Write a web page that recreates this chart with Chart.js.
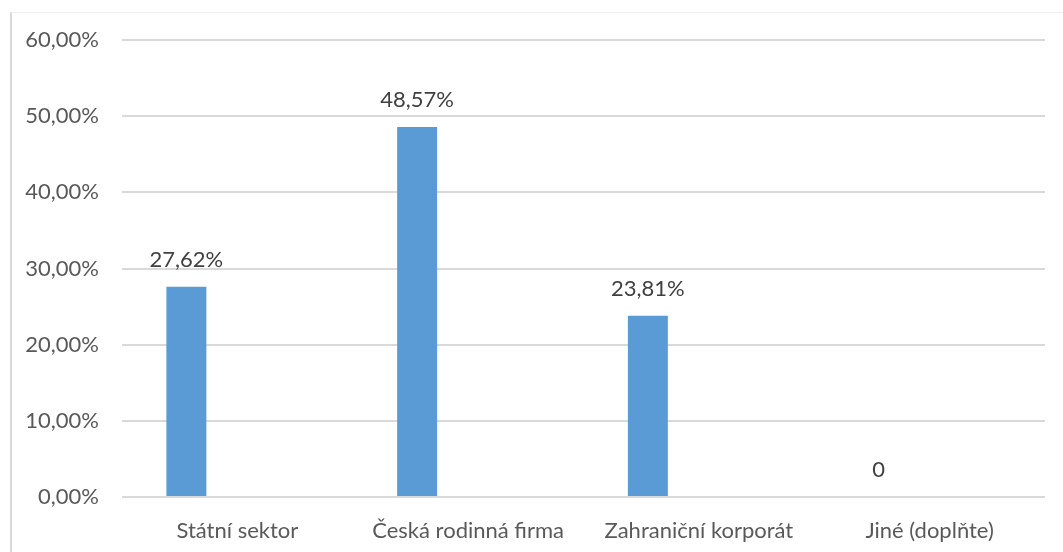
<!DOCTYPE html>
<html>
<head>
<meta charset="utf-8">
<script src="https://cdn.jsdelivr.net/npm/chart.js@4"></script>
<style>
  html, body { margin: 0; padding: 0; background: #fff; overflow: hidden; }
  #wrap { position: relative; width: 1063px; height: 552px; }
  #frame { position: absolute; left: 10px; top: 12px; width: 1100px; height: 600px;
           border-left: 2px solid #d9d9d9; border-top: 1px solid #eeeeee; }
  canvas { position: absolute; left: 0; top: 0; }
</style>
</head>
<body>
<div id="wrap">
  <div id="frame"></div>
  <canvas id="chart" width="1063" height="552"></canvas>
</div>
<script>
// Categories and values (percent)
const categories = ['Státní sektor', 'Česká rodinná firma', 'Zahraniční korporát', 'Jiné (doplňte)'];
const values = [27.62, 48.57, 23.81, 0];
const emptySeries = [null, null, null, null];
const yTicks = [0, 10, 20, 30, 40, 50, 60];

const FONT = 'Lato, "Open Sans", sans-serif';

// Format like the source: comma decimal, plain 0 for zero
function formatPct(v) {
    if (v === 0) return '0';
    return v.toFixed(2).replace('.', ',') + '%';
}

// Draw value labels above the bars
const valueLabels = {
    id: 'valueLabels',
    afterDatasetsDraw(chart) {
        const ctx = chart.ctx;
        const meta = chart.getDatasetMeta(0);
        ctx.save();
        ctx.font = '22px ' + FONT;
        ctx.fillStyle = '#404040';
        ctx.textAlign = 'center';
        ctx.textBaseline = 'alphabetic';
        meta.data.forEach((bar, i) => {
            ctx.fillText(formatPct(values[i]), bar.x, bar.y - 20);
        });
        ctx.restore();
    }
};

new Chart(document.getElementById('chart'), {
    type: 'bar',
    data: {
        labels: categories,
        datasets: [{
            data: values,
            backgroundColor: '#5B9BD5',
            borderWidth: 0,
            categoryPercentage: 0.884,
            barPercentage: 0.392
        }, {
            data: emptySeries,
            backgroundColor: '#ED7D31',
            categoryPercentage: 0.884,
            barPercentage: 0.392
        }]
    },
    options: {
        responsive: false,
        animation: false,
        layout: { padding: { top: 40, right: 18, bottom: 0, left: 0 } },
        plugins: { legend: { display: false }, tooltip: { enabled: false } },
        scales: {
            x: {
                grid: { display: false },
                border: { display: false },
                ticks: { color: '#595959', font: { family: FONT, size: 22 }, padding: 13, maxRotation: 0 },
                afterFit(scale) { scale.height = 55; }
            },
            y: {
                min: 0,
                max: 60,
                afterBuildTicks(scale) { scale.ticks = yTicks.map(v => ({ value: v })); },
                grid: { color: '#d9d9d9', lineWidth: 2, drawTicks: false },
                border: { display: false },
                ticks: {
                    color: '#595959',
                    font: { family: FONT, size: 22 },
                    padding: 23,
                    callback: v => v.toFixed(2).replace('.', ',') + '%'
                },
                afterFit(scale) { scale.width = 122; }
            }
        }
    },
    plugins: [valueLabels]
});
</script>
</body>
</html>
